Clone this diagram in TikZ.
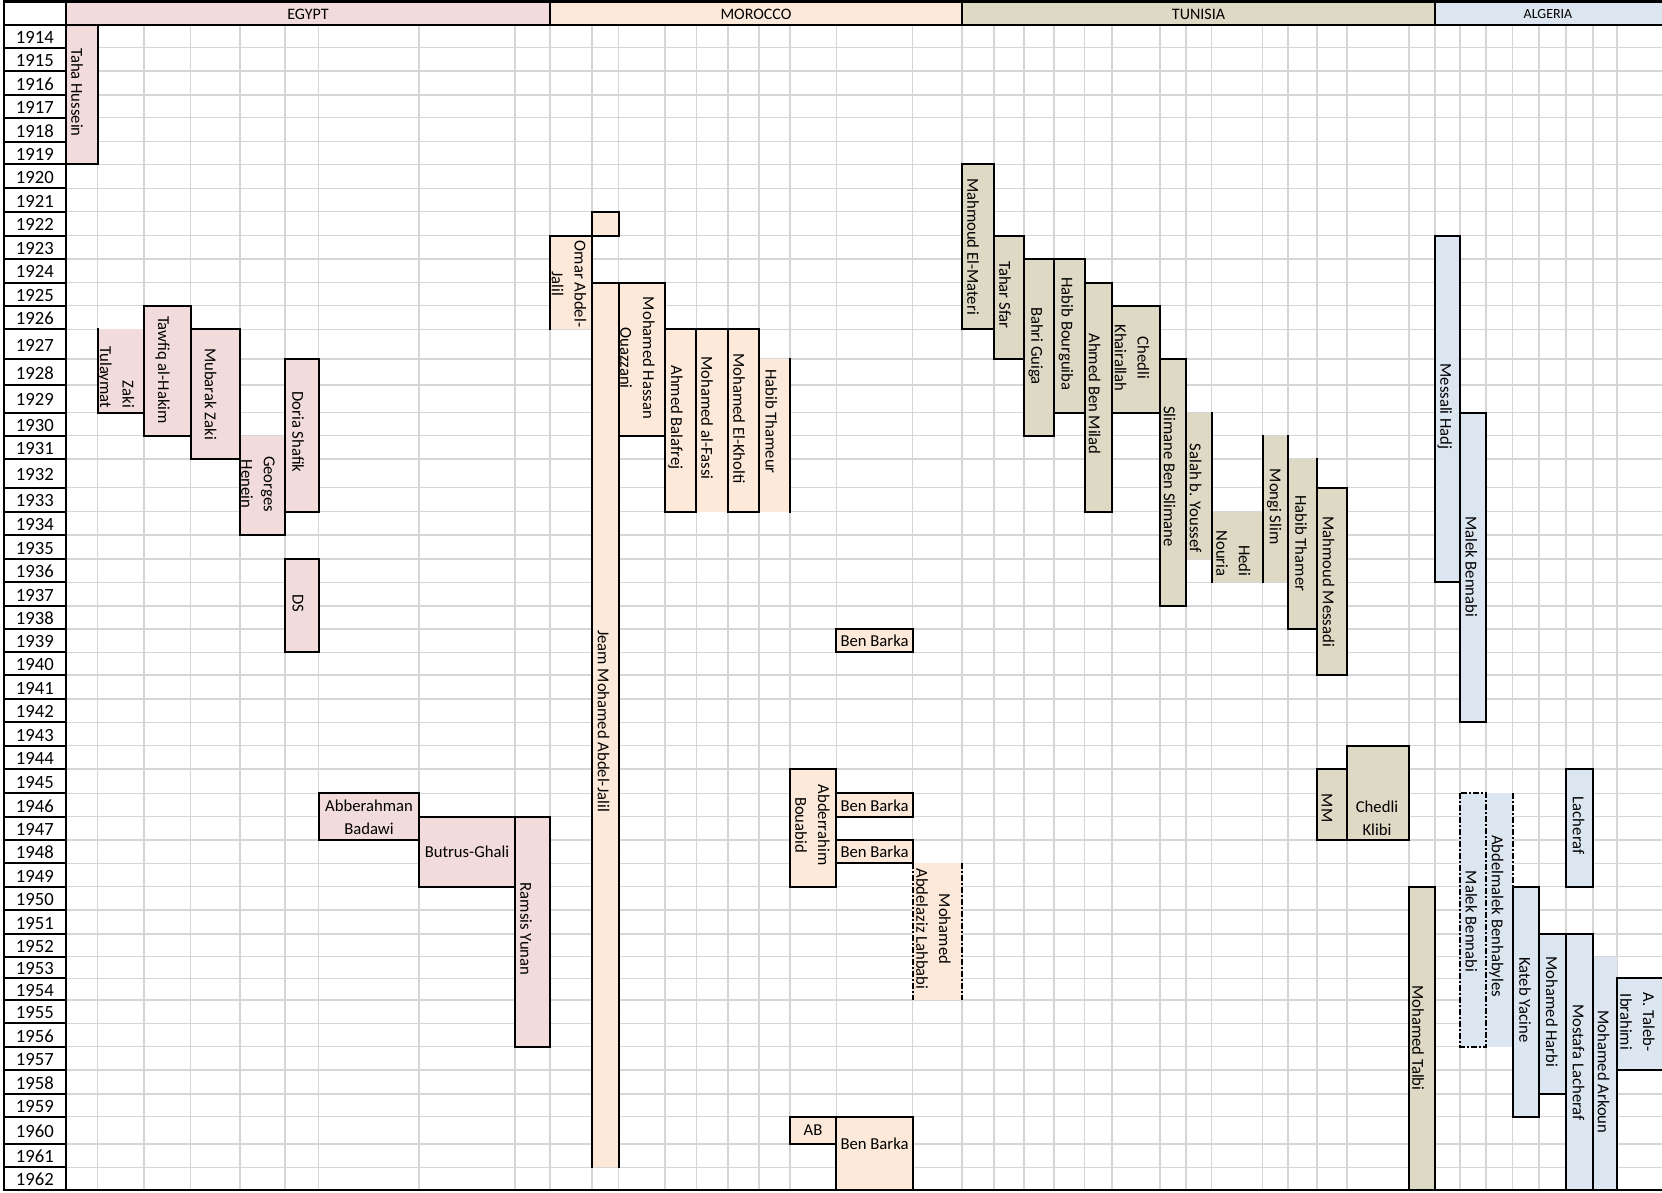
\documentclass[tikz,border=0pt]{standalone}
\usepackage{fontspec}
\setmainfont{Carlito}
\definecolor{egy}{HTML}{F2DCDB}
\definecolor{mor}{HTML}{FDE9D9}
\definecolor{tun}{HTML}{DDD9C4}
\definecolor{alg}{HTML}{DCE6F1}
\definecolor{gridc}{HTML}{D6D6D6}
\begin{document}
\begin{tikzpicture}[x=0.75pt,y=-0.75pt,
  gridl/.style={draw=gridc, line width=1pt},
  bd/.style={draw=black, line width=1.5pt, line cap=rect, line join=miter},
  dd/.style={draw=black, line width=1.5pt, dash pattern=on 4.5pt off 1.5pt on 1.5pt off 1.5pt},
  nm/.style={font=\fontsize{12.5}{17}\selectfont, inner sep=0pt},
  vt/.style={nm, rotate=-90},
  vtc/.style={vt, align=center},
  vtr/.style={vt, align=right, anchor=east},
  hc/.style={nm, align=center},
  yr/.style={font=\fontsize{14}{16}\selectfont, inner sep=0pt},
  hd/.style={font=\fontsize{12}{14}\selectfont, inner sep=0pt}]
\def\rowlist{24.5,47.7,71,95,117.7,141.7,164.3,188.3,211.7,235.7,259,282.7,305.7,329.3,359,385,412.7,435.7,459,487.7,511.7,535,559,582.3,606,629,652.3,675,699,722.3,745.7,769,793.3,816.7,840,863.3,886.7,910,934,956.7,978.3,1000,1023.3,1046.7,1070,1094,1116.7,1144,1167.3,1190}
\def\collist{97.5,144,190.5,240,285,318.6,419,515,550,592,618.6,665,696.4,728,759,790,836.4,912.5,962,994,1024,1054,1084.6,1112,1160,1186,1211.5,1262.5,1288,1317,1347,1409,1435,1460,1486,1512.5,1539,1566,1593,1617}
\useasboundingbox (0,0) rectangle (1662,1192);
\fill[white] (0,0) rectangle (1662,1192);
% grid
\foreach \y in \rowlist {\draw[gridl] (66,\y) -- (1662,\y);}
\foreach \x in \collist {\draw[gridl] (\x,24.5) -- (\x,1190);}
% header fills
\fill[egy] (66,1.5) rectangle (550,24.5);
\fill[mor] (550,1.5) rectangle (962,24.5);
\fill[tun] (962,1.5) rectangle (1435,24.5);
\fill[alg] (1435,1.5) rectangle (1662,24.5);
% Egypt fills
\fill[egy] (66,24.5) rectangle (97.5,164.3);
\fill[egy] (97.5,329.3) rectangle (144,412.7);
\fill[egy] (144,305.7) rectangle (190.5,435.7);
\fill[egy] (190.5,329.3) rectangle (240,459);
\fill[egy] (240,435.7) rectangle (285,535);
\fill[egy] (285,359) rectangle (318.6,511.7);
\fill[egy] (285,559) rectangle (318.6,652.3);
\fill[egy] (318.6,793.3) rectangle (419,840);
\fill[egy] (419,816.7) rectangle (515,886.7);
\fill[egy] (515,816.7) rectangle (550,1046.7);
% Morocco fills
\fill[mor] (550,235.7) rectangle (592,329.3);
\fill[mor] (592,211.7) rectangle (618.6,235.7);
\fill[mor] (592,282.7) rectangle (618.6,1167.3);
\fill[mor] (618.6,282.7) rectangle (665,435.7);
\fill[mor] (665,329.3) rectangle (696.4,511.7);
\fill[mor] (696.4,329.3) rectangle (728,511.7);
\fill[mor] (728,329.3) rectangle (759,511.7);
\fill[mor] (759,359) rectangle (790,511.7);
\fill[mor] (836.4,629) rectangle (912.5,652.3);
\fill[mor] (790,769) rectangle (836.4,886.7);
\fill[mor] (836.4,793.3) rectangle (912.5,816.7);
\fill[mor] (836.4,840) rectangle (912.5,863.3);
\fill[mor] (912.5,863.3) rectangle (962,1000);
\fill[mor] (790,1116.7) rectangle (836.4,1144);
\fill[mor] (836.4,1116.7) rectangle (912.5,1190);
% Tunisia fills
\fill[tun] (962,164.3) rectangle (994,329.3);
\fill[tun] (994,235.7) rectangle (1024,359);
\fill[tun] (1024,259) rectangle (1054,435.7);
\fill[tun] (1054,259) rectangle (1084.6,412.7);
\fill[tun] (1084.6,282.7) rectangle (1112,511.7);
\fill[tun] (1112,305.7) rectangle (1160,412.7);
\fill[tun] (1160,359) rectangle (1186,606);
\fill[tun] (1186,412.7) rectangle (1211.5,559);
\fill[tun] (1211.5,511.7) rectangle (1262.5,582.3);
\fill[tun] (1262.5,435.7) rectangle (1288,582.3);
\fill[tun] (1288,459) rectangle (1317,629);
\fill[tun] (1317,487.7) rectangle (1347,675);
\fill[tun] (1317,769) rectangle (1347,840);
\fill[tun] (1347,745.7) rectangle (1409,840);
\fill[tun] (1409,886.7) rectangle (1435,1190);
% Algeria fills
\fill[alg] (1435,235.7) rectangle (1460,582.3);
\fill[alg] (1460,412.7) rectangle (1486,722.3);
\fill[alg] (1460,793.3) rectangle (1486,1046.7);
\fill[alg] (1486,793.3) rectangle (1512.5,1046.7);
\fill[alg] (1566,769) rectangle (1593,886.7);
\fill[alg] (1512.5,886.7) rectangle (1539,1116.7);
\fill[alg] (1539,934) rectangle (1566,1094);
\fill[alg] (1566,934) rectangle (1593,1190);
\fill[alg] (1593,956.7) rectangle (1617,1190);
\fill[alg] (1617,978.3) rectangle (1662,1070);
% full borders
\foreach \a/\b/\c/\d in {66/24.5/97.5/164.3, 144/305.7/190.5/435.7, 190.5/329.3/240/459,
  285/359/318.6/511.7, 285/559/318.6/652.3, 318.6/793.3/419/840, 419/816.7/515/886.7,
  515/816.7/550/1046.7, 592/211.7/618.6/235.7, 618.6/282.7/665/435.7, 665/329.3/696.4/511.7,
  728/329.3/759/511.7, 836.4/629/912.5/652.3, 790/769/836.4/886.7, 836.4/793.3/912.5/816.7,
  836.4/840/912.5/863.3, 790/1116.7/836.4/1144, 962/164.3/994/329.3, 994/235.7/1024/359,
  1024/259/1054/435.7, 1054/259/1084.6/412.7, 1084.6/282.7/1112/511.7, 1112/305.7/1160/412.7,
  1160/359/1186/606, 1317/487.7/1347/675, 1317/769/1347/840, 1347/745.7/1409/840,
  1435/235.7/1460/582.3, 1460/412.7/1486/722.3, 1566/769/1593/886.7, 1512.5/886.7/1539/1116.7,
  1539/934/1566/1094}
  {\draw[bd] (\a,\b) rectangle (\c,\d);}
% partial borders
\draw[bd] (97.5,329.3) -- (97.5,412.7) -- (144,412.7);
\draw[bd] (240,435.7) -- (240,535) -- (285,535) -- (285,435.7);
\draw[bd] (550,329.3) -- (550,235.7) -- (592,235.7) -- (592,329.3);
\draw[bd] (592,1167.3) -- (592,282.7) -- (618.6,282.7) -- (618.6,1167.3);
\draw[bd] (696.4,329.3) -- (728,329.3);
\draw[bd] (790,359) -- (790,511.7);
\draw[bd] (836.4,1190) -- (836.4,1116.7) -- (912.5,1116.7) -- (912.5,1190);
\draw[bd] (1211.5,412.7) -- (1211.5,582.3);
\draw[bd] (1262.5,435.7) -- (1262.5,582.3);
\draw[bd] (1288,435.7) -- (1288,629) -- (1317,629) -- (1317,459);
\draw[bd] (1409,1190) -- (1409,886.7) -- (1435,886.7) -- (1435,1190);
\draw[bd] (1566,1190) -- (1566,934) -- (1593,934) -- (1593,1190);
\draw[bd] (1617,978.3) -- (1617,1190);
\draw[bd] (1662,978.3) -- (1617,978.3) -- (1617,1070) -- (1662,1070);
% dashed borders
\draw[dd] (912.5,863.3) -- (912.5,1000);
\draw[dd] (962,863.3) -- (962,1000);
\draw[dd] (1460,793.3) rectangle (1486,1046.7);
\draw[dd] (1512.5,793.3) -- (1512.5,886.7);
% frame: year column and header
\foreach \y in \rowlist {\draw[bd] (3.6,\y) -- (66,\y);}
\draw[bd] (3.6,1.5) -- (3.6,1190);
\draw[bd] (66,1.5) -- (66,1190);
\draw[bd] (3.6,1.5) -- (1662,1.5);
\draw[bd] (3.6,24.5) -- (1662,24.5);
\draw[bd] (3.6,1190) -- (1662,1190);
\foreach \x in {550,962,1435} {\draw[bd] (\x,1.5) -- (\x,24.5);}
% header texts
\node[hd] (egypt) at (308,14) {EGYPT};
\node[hd] (morocco) at (756,14) {MOROCCO};
\node[hd] (tunisia) at (1198.5,14) {TUNISIA};
\node[font=\fontsize{10.5}{12}\selectfont, inner sep=0pt] (algeria) at (1548,14.5) {ALGERIA};
% years
\foreach \a/\b/\yr in {24.5/47.7/1914, 47.7/71/1915, 71/95/1916, 95/117.7/1917, 117.7/141.7/1918,
  141.7/164.3/1919, 164.3/188.3/1920, 188.3/211.7/1921, 211.7/235.7/1922, 235.7/259/1923,
  259/282.7/1924, 282.7/305.7/1925, 305.7/329.3/1926, 329.3/359/1927, 359/385/1928,
  385/412.7/1929, 412.7/435.7/1930, 435.7/459/1931, 459/487.7/1932, 487.7/511.7/1933,
  511.7/535/1934, 535/559/1935, 559/582.3/1936, 582.3/606/1937, 606/629/1938, 629/652.3/1939,
  652.3/675/1940, 675/699/1941, 699/722.3/1942, 722.3/745.7/1943, 745.7/769/1944,
  769/793.3/1945, 793.3/816.7/1946, 816.7/840/1947, 840/863.3/1948, 863.3/886.7/1949,
  886.7/910/1950, 910/934/1951, 934/956.7/1952, 956.7/978.3/1953, 978.3/1000/1954,
  1000/1023.3/1955, 1023.3/1046.7/1956, 1046.7/1070/1957, 1070/1094/1958, 1094/1116.7/1959,
  1116.7/1144/1960, 1144/1167.3/1961, 1167.3/1190/1962}
  {\node[yr] (y\yr) at (34.8,{(\a+\b)/2+1}) {\yr};}
% Egypt names
\node[vt] (taha) at (77,92.5) {Taha Hussein};
\node[vtr] (zaki) at (115.8,408.3) {Zaki\\Tulaymat};
\node[vt] (tawfiq) at (162.5,370) {Tawfiq al-Hakim};
\node[vt] (mubarak) at (210.7,394) {Mubarak Zaki};
\node[vtc] (georges) at (258,484) {Georges\\Henein};
\node[vt] (doria) at (298,432) {Doria Shafik};
\node[vt] (ds) at (298,603) {DS};
\node[hc] (badawi) at (369,817.5) {Abberahman\\Badawi};
\node[nm] (butrus) at (467,852) {Butrus-Ghali};
\node[vt] (ramsis) at (526,929) {Ramsis Yunan};
% Morocco names
\node[vtc] (omar) at (569,284) {Omar Abdel-\\Jalil};
\node[vt] (jeam) at (603.6,721) {Jeam Mohamed Abdel-Jalil};
\node[vtc] (ouazzani) at (637.5,358) {Mohamed Hassan\\Ouazzani};
\node[vt] (balafrej) at (675.5,417.5) {Ahmed Balafrej};
\node[vt] (fassi) at (707,418) {Mohamed al-Fassi};
\node[vt] (kholti) at (739,418.5) {Mohamed El-Kholti};
\node[vt] (thameur) at (771.4,421.5) {Habib Thameur};
\node[nm] (bb39) at (874.5,641) {Ben Barka};
\node[vtc] (bouabid) at (812.5,825) {Abderrahim\\Bouabid};
\node[nm] (bb46) at (874.5,805.5) {Ben Barka};
\node[nm] (bb48) at (874.5,852) {Ben Barka};
\node[vtc] (lahbabi) at (933.5,929) {Mohamed\\Abdelaziz Lahbabi};
\node[nm] (ab) at (813,1130.5) {AB};
\node[nm] (bb60) at (874.5,1143.5) {Ben Barka};
% Tunisia names
\node[vt] (materi) at (973,246.5) {Mahmoud El-Materi};
\node[vt] (sfar) at (1005,295) {Tahar Sfar};
\node[vt] (guiga) at (1035.7,346) {Bahri Guiga};
\node[vt] (bourguiba) at (1066,334) {Habib Bourguiba};
\node[vt] (milad) at (1094.6,394) {Ahmed Ben Milad};
\node[vtc] (khairallah) at (1132,358) {Chedli\\Khairallah};
\node[vt] (slimane) at (1169.6,476.5) {Slimane Ben Slimane};
\node[vt] (salah) at (1195.5,498.3) {Salah b. Youssef};
\node[vtr] (nouria) at (1233.3,576.7) {Hedi\\Nouria};
\node[vt] (mongi) at (1274.3,506.7) {Mongi Slim};
\node[vt] (thamer) at (1301,543.3) {Habib Thamer};
\node[vt] (messadi) at (1328.6,581.7) {Mahmoud Messadi};
\node[vt] (mm) at (1327,808) {MM};
\node[hc] (klibi) at (1377,818.3) {Chedli\\Klibi};
\node[vt] (talbi) at (1418,1038) {Mohamed Talbi};
% Algeria names
\node[vt] (messali) at (1444.6,406.5) {Messali Hadj};
\node[vt] (bennabi1) at (1471.4,566.7) {Malek Bennabi};
\node[vt] (bennabi2) at (1471.4,921.5) {Malek Bennabi};
\node[vt] (benhabyles) at (1496.4,916) {Abdelmalek Benhabyles};
\node[vt] (lacheraf1) at (1578.6,825.7) {Lacheraf};
\node[vt] (kateb) at (1525,1000) {Kateb Yacine};
\node[vt] (harbi) at (1551.8,1012) {Mohamed Harbi};
\node[vt] (lacheraf2) at (1578.6,1062.5) {Mostafa Lacheraf};
\node[vt] (arkoun) at (1603.6,1072) {Mohamed Arkoun};
\node[vtc] (taleb) at (1637.5,1022) {A. Taleb-\\Ibrahimi};
\end{tikzpicture}
\end{document}
